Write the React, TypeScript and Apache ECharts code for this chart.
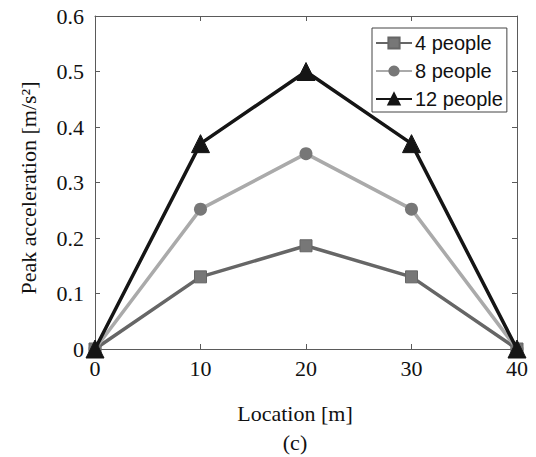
import React, { useEffect, useRef } from "react";
import * as echarts from "echarts";

const locations = [0, 10, 20, 30, 40];
const people4 = [0, 0.13, 0.186, 0.13, 0];
const people8 = [0, 0.252, 0.352, 0.252, 0];
const people12 = [0, 0.37, 0.5, 0.37, 0];
const seriesNames = ["4 people", "8 people", "12 people"];
const xLabel = "Location [m]";
const yLabel = "Peak acceleration [m/s²]";
const caption = "(c)";

const serif = "'Liberation Serif', 'Times New Roman', serif";
const sans = "'Liberation Sans', Arial, sans-serif";

export default function App() {
  const ref = useRef<HTMLDivElement>(null);
  useEffect(() => {
    if (!ref.current) return;
    const chart = echarts.init(ref.current, undefined, { renderer: "svg" });
    const toPairs = (vals: number[]) => vals.map((v, i) => [locations[i], v]);
    const frameColor = "#5a5a5a";
    const axisCommon = {
      axisLine: { show: true, onZero: false, lineStyle: { color: frameColor, width: 1 } },
      axisTick: { show: true, inside: true, length: 5, lineStyle: { color: frameColor } },
      splitLine: { show: false },
    };
    const tickFont = { fontFamily: serif, fontSize: 22, color: "#111" };
    chart.setOption({
      animation: false,
      backgroundColor: "#fff",
      grid: { left: 95, right: 19, top: 16, bottom: 108 },
      graphic: [
        {
          type: "text",
          x: 295,
          y: 413,
          style: { text: xLabel, font: `22px ${serif}`, fill: "#111", align: "center", verticalAlign: "middle" },
        },
        {
          type: "text",
          x: 295,
          y: 442,
          style: { text: caption, font: `22px ${serif}`, fill: "#111", align: "center", verticalAlign: "middle" },
        },
        {
          type: "text",
          x: 28,
          y: 188,
          rotation: Math.PI / 2,
          style: { text: yLabel, font: `22px ${serif}`, fill: "#111", align: "center", verticalAlign: "middle" },
        },
      ],
      legend: {
        data: seriesNames,
        orient: "vertical",
        left: 372,
        top: 28,
        itemWidth: 36,
        itemHeight: 14,
        itemGap: 8,
        padding: [5, 4, 3, 3],
        borderColor: "#444",
        borderWidth: 1,
        borderRadius: 0,
        backgroundColor: "#fff",
        textStyle: { fontFamily: sans, fontSize: 20, lineHeight: 20, color: "#111", padding: [0, 0, 0, -2] },
      },
      xAxis: [
        {
          type: "value",
          min: 0,
          max: 40,
          interval: 10,
          position: "bottom",
          axisLabel: { ...tickFont, margin: 8 },
          ...axisCommon,
        },
        {
          type: "value",
          min: 0,
          max: 40,
          interval: 10,
          position: "top",
          axisLabel: { show: false },
          ...axisCommon,
        },
      ],
      yAxis: [
        {
          type: "value",
          min: 0,
          max: 0.6,
          interval: 0.1,
          position: "left",
          axisLabel: {
            ...tickFont,
            margin: 11,
            formatter: (v: number) => (v === 0 ? "0" : (Math.round(v * 10) / 10).toFixed(1)),
          },
          ...axisCommon,
        },
        {
          type: "value",
          min: 0,
          max: 0.6,
          interval: 0.1,
          position: "right",
          axisLabel: { show: false },
          ...axisCommon,
        },
      ],
      series: [
        {
          name: seriesNames[0],
          type: "line",
          data: toPairs(people4),
          symbol: "rect",
          symbolSize: 12,
          lineStyle: { color: "#666", width: 3.5 },
          itemStyle: { color: "#777", borderColor: "#666", borderWidth: 1 },
          z: 3,
        },
        {
          name: seriesNames[1],
          type: "line",
          data: toPairs(people8),
          symbol: "circle",
          symbolSize: 13,
          lineStyle: { color: "#aaa", width: 3.5 },
          itemStyle: { color: "#777", borderColor: "#777", borderWidth: 0 },
          z: 4,
        },
        {
          name: seriesNames[2],
          type: "line",
          data: toPairs(people12),
          symbol: "triangle",
          symbolSize: 18,
          lineStyle: { color: "#151515", width: 3.5 },
          itemStyle: { color: "#151515", borderColor: "#151515", borderWidth: 1 },
          z: 5,
        },
      ],
    });
    return () => chart.dispose();
  }, []);
  return <div ref={ref} style={{ width: 536, height: 457, position: "absolute", left: 0, top: 0 }} />;
}
